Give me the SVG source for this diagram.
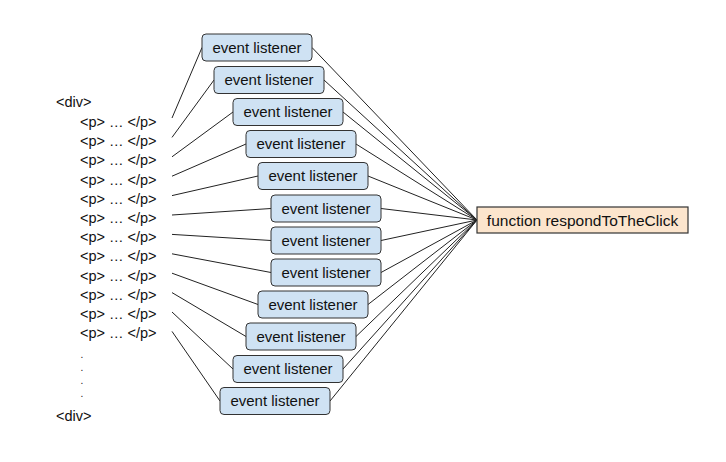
<svg xmlns="http://www.w3.org/2000/svg" width="726" height="462" viewBox="0 0 726 462">
<style>
text{font-family:"Liberation Sans",Arial,sans-serif;font-size:14.5px;fill:#111}
.dot{font-size:10px}
.ev rect{fill:#cfe2f3;stroke:#333;stroke-width:1}
.ev text{text-anchor:middle;font-size:15px}
#fn rect{fill:#fce5cd;stroke:#333;stroke-width:1.2}
#fn text{font-size:15.5px}
#connectors line{stroke:#222;stroke-width:1}
</style>
<rect width="726" height="462" fill="#fff"/>
<g id="html">
<text x="56" y="107">&lt;div&gt;</text>
<text x="80" y="127">&lt;p&gt; … &lt;/p&gt;</text>
<text x="80" y="146.2">&lt;p&gt; … &lt;/p&gt;</text>
<text x="80" y="165.4">&lt;p&gt; … &lt;/p&gt;</text>
<text x="80" y="184.6">&lt;p&gt; … &lt;/p&gt;</text>
<text x="80" y="203.8">&lt;p&gt; … &lt;/p&gt;</text>
<text x="80" y="223">&lt;p&gt; … &lt;/p&gt;</text>
<text x="80" y="242.2">&lt;p&gt; … &lt;/p&gt;</text>
<text x="80" y="261.4">&lt;p&gt; … &lt;/p&gt;</text>
<text x="80" y="280.6">&lt;p&gt; … &lt;/p&gt;</text>
<text x="80" y="299.8">&lt;p&gt; … &lt;/p&gt;</text>
<text x="80" y="319">&lt;p&gt; … &lt;/p&gt;</text>
<text x="80" y="338.2">&lt;p&gt; … &lt;/p&gt;</text>
<text class="dot" x="80.5" y="358">.</text>
<text class="dot" x="80.5" y="371">.</text>
<text class="dot" x="80.5" y="384">.</text>
<text class="dot" x="80.5" y="397">.</text>
<text x="56" y="421">&lt;div&gt;</text>
</g>
<g id="connectors">
<line x1="172" y1="118" x2="202" y2="47.5"/>
<line x1="172" y1="137.4" x2="214" y2="80"/>
<line x1="172" y1="156.8" x2="233" y2="112"/>
<line x1="172" y1="176.2" x2="246" y2="144"/>
<line x1="172" y1="195.6" x2="258" y2="176"/>
<line x1="172" y1="215" x2="271" y2="208.5"/>
<line x1="172" y1="234.4" x2="271" y2="240.5"/>
<line x1="172" y1="253.8" x2="271" y2="272.5"/>
<line x1="172" y1="273.2" x2="258" y2="304.5"/>
<line x1="172" y1="292.6" x2="246" y2="336.5"/>
<line x1="172" y1="312" x2="233" y2="369"/>
<line x1="172" y1="331.4" x2="220" y2="401"/>
<line x1="312" y1="47.5" x2="477" y2="220"/>
<line x1="324" y1="80" x2="477" y2="220"/>
<line x1="343" y1="112" x2="477" y2="220"/>
<line x1="356" y1="144" x2="477" y2="220"/>
<line x1="368" y1="176" x2="477" y2="220"/>
<line x1="381" y1="208.5" x2="477" y2="220"/>
<line x1="381" y1="240.5" x2="477" y2="220"/>
<line x1="381" y1="272.5" x2="477" y2="220"/>
<line x1="368" y1="304.5" x2="477" y2="220"/>
<line x1="356" y1="336.5" x2="477" y2="220"/>
<line x1="343" y1="369" x2="477" y2="220"/>
<line x1="330" y1="401" x2="477" y2="220"/>
</g>
<g id="ev1" class="ev"><rect x="202" y="34" width="110" height="27" rx="4"/><text x="257" y="52.5">event listener</text></g>
<g id="ev2" class="ev"><rect x="214" y="66.5" width="110" height="27" rx="4"/><text x="269" y="85">event listener</text></g>
<g id="ev3" class="ev"><rect x="233" y="98.5" width="110" height="27" rx="4"/><text x="288" y="117">event listener</text></g>
<g id="ev4" class="ev"><rect x="246" y="130.5" width="110" height="27" rx="4"/><text x="301" y="149">event listener</text></g>
<g id="ev5" class="ev"><rect x="258" y="162.5" width="110" height="27" rx="4"/><text x="313" y="181">event listener</text></g>
<g id="ev6" class="ev"><rect x="271" y="195" width="110" height="27" rx="4"/><text x="326" y="213.5">event listener</text></g>
<g id="ev7" class="ev"><rect x="271" y="227" width="110" height="27" rx="4"/><text x="326" y="245.5">event listener</text></g>
<g id="ev8" class="ev"><rect x="271" y="259" width="110" height="27" rx="4"/><text x="326" y="277.5">event listener</text></g>
<g id="ev9" class="ev"><rect x="258" y="291" width="110" height="27" rx="4"/><text x="313" y="309.5">event listener</text></g>
<g id="ev10" class="ev"><rect x="246" y="323" width="110" height="27" rx="4"/><text x="301" y="341.5">event listener</text></g>
<g id="ev11" class="ev"><rect x="233" y="355.5" width="110" height="27" rx="4"/><text x="288" y="374">event listener</text></g>
<g id="ev12" class="ev"><rect x="220" y="387.5" width="110" height="27" rx="4"/><text x="275" y="406">event listener</text></g>
<g id="fn"><rect x="477" y="207" width="211" height="26"/><text x="582.5" y="225.5" text-anchor="middle">function respondToTheClick</text></g>
</svg>
